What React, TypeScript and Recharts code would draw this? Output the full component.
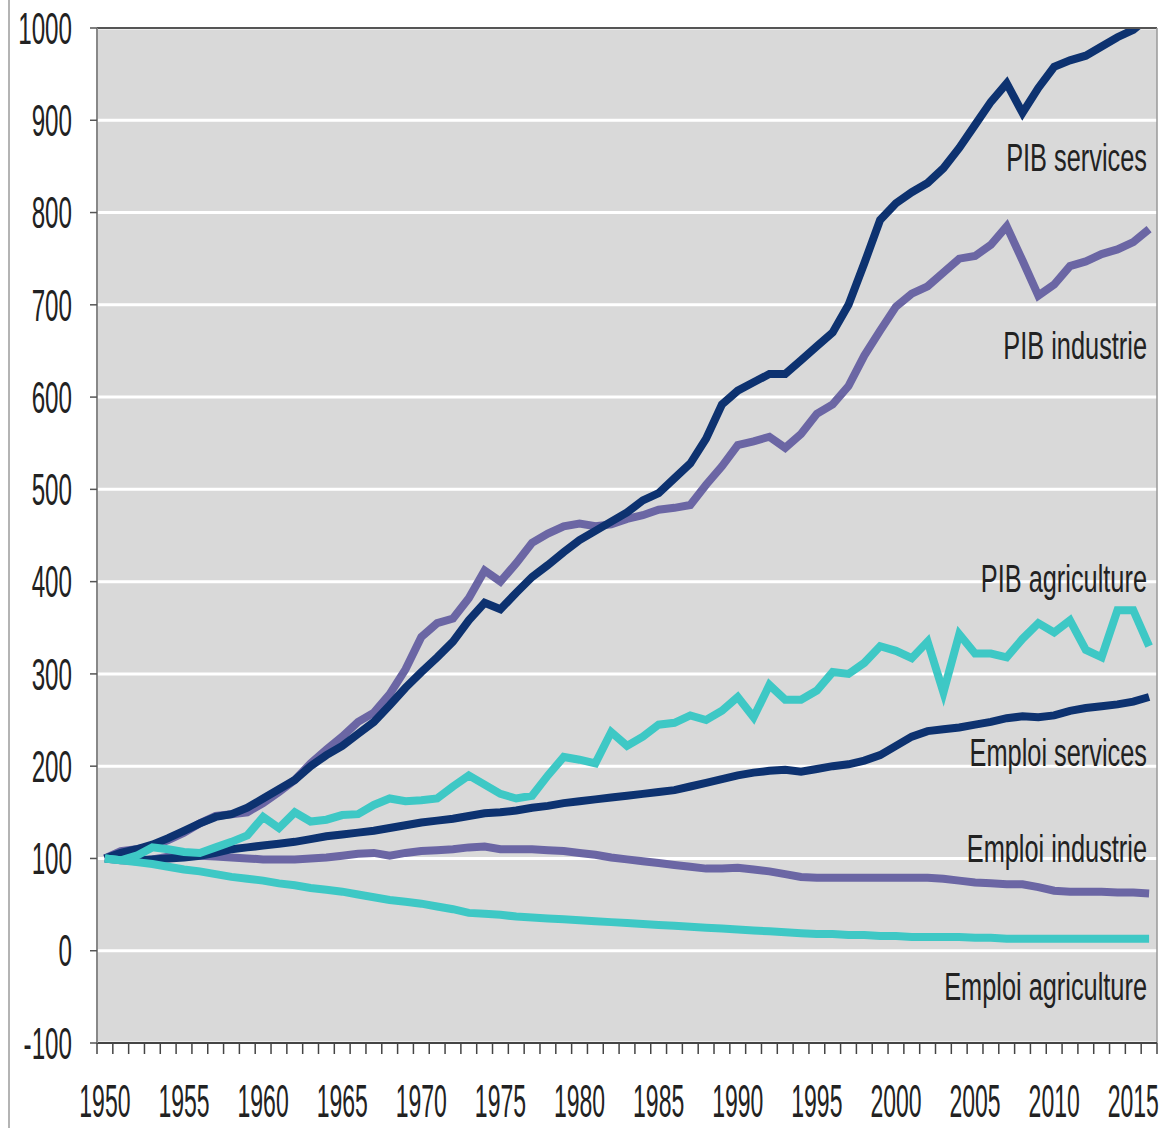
import React from 'react';
import { LineChart, Line, XAxis, YAxis, CartesianGrid, ReferenceLine, ReferenceDot } from 'recharts';

const years = [
  1950, 1951, 1952, 1953, 1954, 1955, 1956, 1957, 1958, 1959,
  1960, 1961, 1962, 1963, 1964, 1965, 1966, 1967, 1968, 1969,
  1970, 1971, 1972, 1973, 1974, 1975, 1976, 1977, 1978, 1979,
  1980, 1981, 1982, 1983, 1984, 1985, 1986, 1987, 1988, 1989,
  1990, 1991, 1992, 1993, 1994, 1995, 1996, 1997, 1998, 1999,
  2000, 2001, 2002, 2003, 2004, 2005, 2006, 2007, 2008, 2009,
  2010, 2011, 2012, 2013, 2014, 2015, 2016,
];

const pibServices = [
  100, 106, 110, 115, 122, 130, 138, 145, 148, 155,
  165, 175, 185, 200, 212, 222, 235, 248, 266, 285,
  302, 318, 335, 358, 377, 370, 388, 405, 418, 432,
  445, 455, 465, 475, 488, 496, 512, 528, 555, 592,
  607, 616, 625, 625, 640, 655, 670, 700, 745, 792,
  810, 822, 832, 848, 870, 895, 920, 940, 908, 935,
  958, 965, 970, 980, 990, 998, 1012,
];

const pibIndustrie = [
  100, 108, 110, 113, 120, 128, 138, 146, 148, 150,
  160, 172, 185, 203, 218, 232, 248, 258, 278, 305,
  340, 355, 360, 382, 412, 400, 420, 442, 452, 460,
  463, 460, 462, 468, 472, 478, 480, 483, 505, 525,
  548, 552, 557, 545, 560, 582, 592, 612, 645, 672,
  698, 712, 720, 735, 750, 753, 765, 785, 748, 710,
  722, 742, 747, 755, 760, 768, 782,
];

const pibAgriculture = [
  100, 98, 103, 112, 110, 107, 106, 112, 118, 125,
  145, 133, 150, 140, 142, 147, 148, 158, 165, 162,
  163, 165, 178, 190, 180, 170, 165, 168, 190, 210,
  207, 203, 237, 222, 232, 245, 247, 255, 250, 260,
  275, 253, 288, 272, 272, 282, 302, 300, 312, 330,
  325, 317, 335, 280, 343, 322, 322, 318, 338, 355,
  345, 358, 326, 318, 369, 369, 330,
];

const emploiServices = [
  100, 99, 98, 99, 100, 101, 103, 106, 110, 112,
  114, 116, 118, 121, 124, 126, 128, 130, 133, 136,
  139, 141, 143, 146, 149, 150, 152, 155, 157, 160,
  162, 164, 166, 168, 170, 172, 174, 178, 182, 186,
  190, 193, 195, 196, 194, 197, 200, 202, 206, 212,
  222, 232, 238, 240, 242, 245, 248, 252, 254, 253,
  255, 260, 263, 265, 267, 270, 275,
];

const emploiIndustrie = [
  100, 98, 97, 99, 102, 104, 103, 102, 101, 100,
  99, 99, 99, 100, 101, 103, 105, 106, 103, 106,
  108, 109, 110, 112, 113, 110, 110, 110, 109, 108,
  106, 104, 101, 99, 97, 95, 93, 91, 89, 89,
  90, 88, 86, 83, 80, 79, 79, 79, 79, 79,
  79, 79, 79, 78, 76, 74, 73, 72, 72, 69,
  65, 64, 64, 64, 63, 63, 62,
];

const emploiAgriculture = [
  100, 98, 96, 94, 91, 88, 86, 83, 80, 78,
  76, 73, 71, 68, 66, 64, 61, 58, 55, 53,
  51, 48, 45, 41, 40, 39, 37, 36, 35, 34,
  33, 32, 31, 30, 29, 28, 27, 26, 25, 24,
  23, 22, 21, 20, 19, 18, 18, 17, 17, 16,
  16, 15, 15, 15, 15, 14, 14, 13, 13, 13,
  13, 13, 13, 13, 13, 13, 13,
];

const labelEvery = 5;
const yTicks = [-100, 0, 100, 200, 300, 400, 500, 600, 700, 800, 900, 1000];

const seriesLabels = [
  { text: 'PIB services', value: 860 },
  { text: 'PIB industrie', value: 656 },
  { text: 'PIB agriculture', value: 404 },
  { text: 'Emploi services', value: 215 },
  { text: 'Emploi industrie', value: 111 },
  { text: 'Emploi agriculture', value: -38 },
];

const NAVY = '#0d3270';
const PURPLE = '#6b66a4';
const TURQ = '#3ec8c5';

const data = years.map((year, i) => ({
  year,
  pibServices: pibServices[i],
  pibIndustrie: pibIndustrie[i],
  pibAgriculture: pibAgriculture[i],
  emploiServices: emploiServices[i],
  emploiIndustrie: emploiIndustrie[i],
  emploiAgriculture: emploiAgriculture[i],
}));

const firstYear = years[0];
const lastYear = years[years.length - 1];
const domainX: [number, number] = [firstYear - 0.5, lastYear + 0.5];

// layout
const CHART_W = 1152;
const CHART_H = 1128;
const Y_AXIS_W = 87;
const MARGIN = { top: 28, right: 5, left: 0, bottom: 5 };
const PLOT_W = CHART_W - Y_AXIS_W - MARGIN.left - MARGIN.right;
const HALF_STEP = PLOT_W / years.length / 2;
const TICK_LEN = 11;
const LINE_W = 8;

const FONT = '"Liberation Sans", Arial, sans-serif';

const YTick = (props: any) => {
  const { x, y, payload } = props;
  const fs = 44;
  return (
    <text
      transform={`translate(${x - 16},${y + fs * 0.358}) scale(0.55,1)`}
      textAnchor="end"
      fontSize={fs}
      fontFamily={FONT}
      fill="#222"
    >
      {payload.value}
    </text>
  );
};

const XTick = (props: any) => {
  const { x, y, payload } = props;
  const fs = 46;
  const year = payload.value;
  const isLast = year === lastYear;
  return (
    <g>
      <line x1={x - HALF_STEP} x2={x - HALF_STEP} y1={y} y2={y + TICK_LEN} stroke="#444" strokeWidth={1.5} />
      {isLast && (
        <line x1={x + HALF_STEP} x2={x + HALF_STEP} y1={y} y2={y + TICK_LEN} stroke="#444" strokeWidth={1.5} />
      )}
      {year % labelEvery === 0 && (
        <text
          transform={`translate(${x},${y + 58 + fs * 0.358}) scale(0.5,1)`}
          textAnchor="middle"
          fontSize={fs}
          fontFamily={FONT}
          fill="#222"
        >
          {year}
        </text>
      )}
    </g>
  );
};

const makeLabelShape = (text: string) => (props: any) => {
  const { cx, cy } = props;
  const fs = 39;
  return (
    <text
      transform={`translate(${cx - 10},${cy + fs * 0.358}) scale(0.65,1)`}
      textAnchor="end"
      fontSize={fs}
      fontFamily={FONT}
      fill="#222"
    >
      {text}
    </text>
  );
};

export default function App() {
  return (
    <div
      style={{
        position: 'absolute',
        left: 8,
        top: 0,
        width: CHART_W,
        height: CHART_H,
        borderLeft: '2px solid #b4b4b4',
        background: '#fff',
      }}
    >
      <LineChart
        width={CHART_W}
        height={CHART_H}
        data={data}
        margin={MARGIN}
        style={{ overflow: 'visible' }}
      >
        <CartesianGrid
          xAxisId="years"
          vertical={false}
          stroke="#ffffff"
          strokeWidth={3}
          fill="#d9d9d9"
          fillOpacity={1}
        />
        <XAxis
          xAxisId="years"
          type="number"
          dataKey="year"
          domain={domainX}
          ticks={years}
          interval={0}
          tick={XTick}
          tickLine={false}
          axisLine={{ stroke: '#444', strokeWidth: 2 }}
          tickSize={0}
          tickMargin={0}
          height={80}
          allowDataOverflow
        />
        <YAxis
          type="number"
          domain={[-100, 1000]}
          ticks={yTicks}
          interval={0}
          width={Y_AXIS_W}
          tick={YTick}
          tickSize={7}
          tickLine={{ stroke: '#555', strokeWidth: 1.5 }}
          axisLine={{ stroke: '#888', strokeWidth: 2 }}
          allowDataOverflow
        />
        <Line xAxisId="years" dataKey="pibIndustrie" stroke={PURPLE} strokeWidth={LINE_W} dot={false} isAnimationActive={false} />
        <Line xAxisId="years" dataKey="pibServices" stroke={NAVY} strokeWidth={LINE_W} dot={false} isAnimationActive={false} />
        <Line xAxisId="years" dataKey="emploiIndustrie" stroke={PURPLE} strokeWidth={LINE_W} dot={false} isAnimationActive={false} />
        <Line xAxisId="years" dataKey="emploiServices" stroke={NAVY} strokeWidth={LINE_W} dot={false} isAnimationActive={false} />
        <Line xAxisId="years" dataKey="pibAgriculture" stroke={TURQ} strokeWidth={LINE_W} dot={false} isAnimationActive={false} />
        <Line xAxisId="years" dataKey="emploiAgriculture" stroke={TURQ} strokeWidth={LINE_W} dot={false} isAnimationActive={false} />
        <ReferenceLine xAxisId="years" y={1000} stroke="#555" strokeWidth={2} />
        <ReferenceLine xAxisId="years" x={lastYear + 0.5} stroke="#999" strokeWidth={1.5} />
        {seriesLabels.map((s) => (
          <ReferenceDot
            key={s.text}
            xAxisId="years"
            x={lastYear + 0.5}
            y={s.value}
            r={0}
            shape={makeLabelShape(s.text)}
          />
        ))}
      </LineChart>
    </div>
  );
}
